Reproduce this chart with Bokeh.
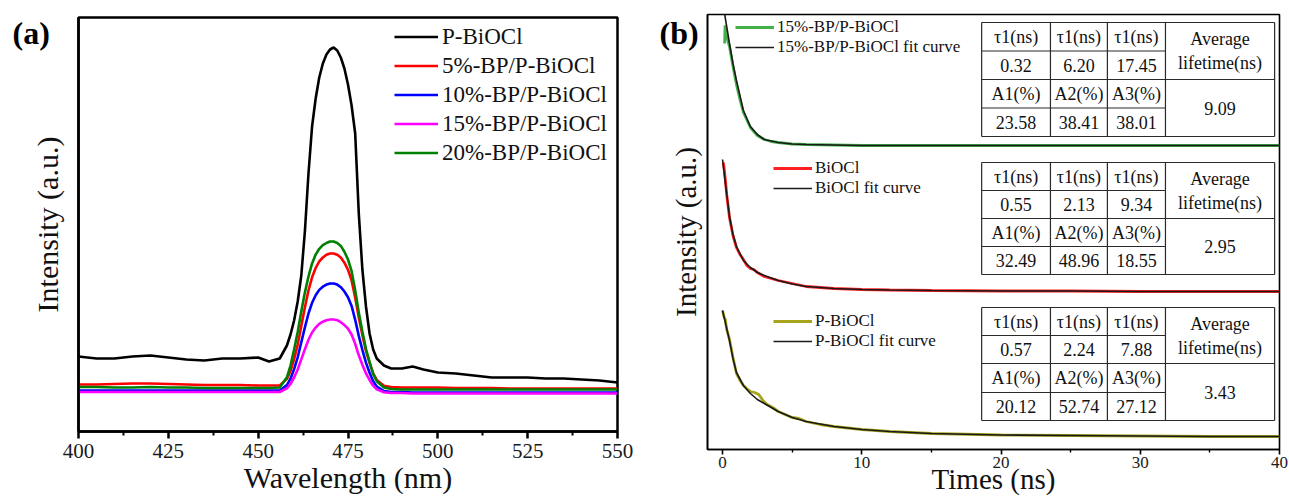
from bokeh.plotting import figure
from bokeh.models import Range1d, FixedTicker, Legend, LegendItem, Title
from bokeh.core.properties import value
from bokeh.embed import file_html
from bokeh.resources import INLINE

FONT = "Liberation Serif"

# ---------------- panel (a): PL spectra ----------------
wavelength_nm = [400, 405, 410, 415, 420, 425, 430, 435, 440, 445, 450, 453, 456,
                 458, 459, 460, 461, 462, 463, 464, 465, 466, 467, 468, 469, 470, 471, 472,
                 473, 474, 475, 476, 477, 478, 479, 480, 481, 482, 483,
                 485, 487, 490, 493, 496, 500, 505, 510, 515, 520, 525, 530, 535, 540, 545, 550]
pl_p_biocl = [75, 73, 73, 75, 76, 74, 72, 71, 73, 73, 74, 70, 73,
              86, 97, 111, 130, 156, 200, 258, 305, 333, 354, 368, 377, 382, 384, 381,
              374, 363, 347, 326, 298, 218, 162, 125, 98, 82, 73,
              66, 63, 63, 65, 62, 59, 58, 56, 54, 54, 54, 53, 53, 52, 51, 49]
pl_5 = [47, 47, 47.5, 48, 48, 47.5, 47, 46.5, 46.5, 46.5, 46, 46, 46,
        52.6, 60.5, 72.4, 86.9, 105.4, 123.9, 141, 154.2, 163.5, 170.1, 174, 176.7, 178, 178, 176.7,
        174, 168.8, 161.7, 151.1, 133.9, 114.1, 96.5, 80.6, 68.8, 58.2, 51.6,
        45.8, 44.5, 44, 44, 44, 44, 43.5, 43.5, 43.5, 43, 43, 43, 43, 43, 43, 43]
pl_10 = [41, 41, 41, 41, 41, 41, 41, 41, 41, 41, 41, 41, 41,
         46.4, 52.8, 62.4, 74.2, 89.2, 104.1, 118, 128.7, 136.2, 141.6, 144.8, 146.9, 148, 148, 146.9,
         144.3, 140, 134.2, 125.6, 111.7, 95.6, 81.7, 68.9, 58.8, 50.2, 44.9,
         40.5, 39.5, 39.5, 39, 39, 39, 39, 39, 39, 39, 39, 39, 39, 39, 39, 39]
pl_15 = [39.5, 39.5, 39.5, 39.5, 39.5, 39.5, 39.5, 39.5, 39.5, 39.5, 39.5, 39.5, 39.5,
         43.1, 47.5, 54, 62, 72.1, 82.3, 91.7, 99, 104, 107.7, 109.8, 111.3, 112, 112, 111.3,
         109.3, 106.4, 102.8, 97, 87.6, 76.2, 66.8, 58.1, 51.5, 45.8, 42.1,
         39.2, 38.5, 38.5, 38, 38, 38, 38, 38, 38, 38, 38, 38, 38, 38, 38, 38]
pl_20 = [44.5, 44.5, 44, 44, 44.5, 44, 44, 43.5, 43.5, 43.5, 43.5, 43.5, 44,
         54.2, 65.9, 82, 99.5, 119.9, 138.9, 155, 168.1, 176.9, 182.7, 186.4, 188.5, 190, 190, 188.5,
         185.6, 179.8, 172, 160.3, 141.3, 118.9, 99.9, 82.4, 69.3, 57.6, 50.3,
         44, 42.5, 42, 42, 42, 42, 42, 42, 42, 42, 42, 42, 42, 42, 42, 42]
pl_labels = ["P-BiOCl", "5%-BP/P-BiOCl", "10%-BP/P-BiOCl", "15%-BP/P-BiOCl", "20%-BP/P-BiOCl"]
pl_colors = ["#000000", "#ff0000", "#0000ff", "#ff00ff", "#008000"]
wl_ticks = [400, 425, 450, 475, 500, 525, 550]

# ---------------- panel (b): TRPL decays (stacked with offsets) ----------------
fit_time = [0, 0.25, 0.5, 0.75, 1, 1.5, 2, 2.5, 3, 4, 5, 6, 8, 10, 12, 15, 20, 25, 30, 35, 40]
fit_15 = [449, 427, 406, 386, 369, 339, 323, 315, 310, 307, 305.5, 305, 304.5, 304, 304, 304,
          304, 304, 304, 304, 304]
fit_biocl = [290, 261, 233, 215, 203, 189, 182, 177, 174, 169, 165.5, 163, 161, 160, 159.5, 159,
             158.5, 158.5, 158, 158, 158]
fit_p = [139, 124, 109, 91, 77, 64, 56, 50, 46, 38, 32, 28, 23, 20, 18, 16, 14.5, 14, 13.5, 13, 13]

data_time_15 = [0.15, 0.18, 0.22, 0.3, 0.5, 0.75, 1.0, 1.25, 1.5, 2, 2.5, 3, 3.5, 4, 5, 6, 8, 10,
                15, 20, 25, 30, 35, 40]
data_15 = [406, 424, 419, 413, 403, 383, 365, 350, 337, 322, 314, 310, 308, 307, 305.5, 305, 304.5,
           304, 304, 304, 304, 304, 304, 304]
data_time_biocl = [0.05, 0.1, 0.2, 0.3, 0.5, 0.75, 1.0, 1.25, 1.5, 1.75, 2, 2.25, 2.5, 3, 3.5, 4, 5,
                   6, 7, 8, 10, 12, 15, 20, 25, 30, 35, 40]
data_biocl = [287, 283, 270, 255, 232, 214, 202, 195, 190, 184, 181, 180, 177, 173, 171, 169, 166,
              163, 162, 161, 160, 159.5, 159, 158.5, 158.5, 158, 158, 158]
data_time_p = [0, 0.1, 0.2, 0.3, 0.5, 0.75, 1.0, 1.3, 1.5, 1.8, 2.0, 2.3, 2.6, 2.9, 3.2, 3.6, 4.0,
               4.5, 5, 5.5, 6, 7, 8, 9, 10, 12, 15, 20, 25, 30, 35, 40]
data_p = [139, 133, 130, 120, 110, 92, 76, 68, 64, 60, 58, 57, 55, 49, 45, 42, 38, 35, 32, 31, 28,
          25, 23, 21.5, 20, 18, 16, 14.5, 14, 13.5, 13, 13]

decay_labels = ["15%-BP/P-BiOCl", "BiOCl", "P-BiOCl"]
decay_colors = ["#43b04a", "#ff2020", "#a6a41c"]
time_ticks = [0, 10, 20, 30, 40]

tau_header = ["τ1(ns)", "τ1(ns)", "τ1(ns)"]
amp_header = ["A1(%)", "A2(%)", "A3(%)"]
lifetime_tau = [[0.32, 6.20, 17.45], [0.55, 2.13, 9.34], [0.57, 2.24, 7.88]]
lifetime_amp = [[23.58, 38.41, 38.01], [32.49, 48.96, 18.55], [20.12, 52.74, 27.12]]
lifetime_avg = [9.09, 2.95, 3.43]

# ---------------- layout constants ----------------
TABLE_COLS = [18.61, 23.55, 27.64, 31.81, 39.65]
TABLE_ROWS = [[427, 398.5, 370, 341.5, 313],
              [287, 259, 231, 203, 175],
              [142, 114, 86, 57, 29]]
LEGEND_B_POS = [(28, 392), (66, 251), (66, 98)]

# two independent roots placed side by side (avoids frame alignment of a Row)
PAGE_TEMPLATE = """
{% block postamble %}
<style>
  body { display: flex !important; flex-direction: row; align-items: flex-start; }
</style>
{% endblock %}
"""


def style_text_axis(ax, tick_size, label_size):
    ax.major_label_text_font = FONT
    ax.major_label_text_font_size = tick_size
    ax.major_label_text_color = "#1a1a1a"
    ax.axis_label_text_font = FONT
    ax.axis_label_text_font_size = label_size
    ax.axis_label_text_font_style = "normal"
    ax.axis_label_text_color = "#111111"


# ================= panel (a) =================
pa = figure(width=660, height=500, x_range=Range1d(400, 550), y_range=Range1d(0, 414),
            output_backend="svg", toolbar_location=None,
            min_border_left=78, min_border_right=43, min_border_top=17, min_border_bottom=69)
pa.grid.visible = False
pa.outline_line_color = "black"
pa.outline_line_width = 2.5
pa.outline_line_alpha = 1.0

series_a = [pl_p_biocl, pl_5, pl_10, pl_15, pl_20]
rend_a = []
for ys, c in zip(series_a, pl_colors):
    rend_a.append(pa.line(wavelength_nm, ys, line_color=c, line_width=2.6))

xa = pa.xaxis[0]
xa.ticker = FixedTicker(ticks=wl_ticks,
                        minor_ticks=[(a + b) / 2 for a, b in zip(wl_ticks[:-1], wl_ticks[1:])])
xa.axis_line_width = 2.5
xa.major_tick_line_width = 2.5
xa.minor_tick_line_width = 2
xa.major_tick_out = 7
xa.major_tick_in = 0
xa.minor_tick_out = 4
xa.minor_tick_in = 0
xa.axis_label = "Wavelength (nm)"
xa.axis_label_standoff = 0
style_text_axis(xa, "21px", "30px")

ya = pa.yaxis[0]
ya.ticker = FixedTicker(ticks=[])
ya.major_tick_out = 0
ya.major_tick_in = 0
ya.minor_tick_out = 0
ya.minor_tick_in = 0
ya.major_label_standoff = 0
ya.axis_line_width = 2.5
ya.axis_label = "Intensity (a.u.)"
ya.axis_label_standoff = 15
style_text_axis(ya, "21px", "30px")

leg_a = Legend(items=[LegendItem(label=l, renderers=[r]) for l, r in zip(pl_labels, rend_a)],
               location=(316, 264), glyph_width=44, glyph_height=29, label_height=29,
               spacing=0, padding=0, margin=0, label_standoff=4,
               label_text_font=FONT, label_text_font_size="23px", label_text_color="#111111",
               border_line_alpha=0, background_fill_alpha=0)
pa.add_layout(leg_a)

pa.add_layout(Title(text="(a)", align="left", offset=-66, standoff=-66,
                    text_font=FONT, text_font_size="32px", text_font_style="bold",
                    text_color="#000000"), "above")

# ================= panel (b) =================
pb = figure(width=629, height=500, x_range=Range1d(-1.08, 40), y_range=Range1d(0, 435),
            output_backend="svg", toolbar_location=None,
            min_border_left=47, min_border_right=10, min_border_top=14, min_border_bottom=51)
pb.grid.visible = False
pb.outline_line_color = "black"
pb.outline_line_width = 1.6
pb.outline_line_alpha = 1.0

data_sets = [(data_time_15, data_15), (data_time_biocl, data_biocl), (data_time_p, data_p)]
fit_sets = [fit_15, fit_biocl, fit_p]
data_rends = []
for (tx, ty), c in zip(data_sets, decay_colors):
    data_rends.append(pb.line(tx, ty, line_color=c, line_width=2.8))
fit_rends = []
for fy in fit_sets:
    fit_rends.append(pb.line(fit_time, fy, line_color="#1a1a1a", line_width=1.6))

for i, lab in enumerate(decay_labels):
    leg = Legend(items=[LegendItem(label=lab, renderers=[data_rends[i]]),
                        LegendItem(label=lab + " fit curve", renderers=[fit_rends[i]])],
                 location=LEGEND_B_POS[i], glyph_width=39, glyph_height=20, label_height=20,
                 spacing=0, padding=0, margin=0, label_standoff=3,
                 label_text_font=FONT, label_text_font_size="17px", label_text_color="#111111",
                 border_line_alpha=0, background_fill_alpha=0)
    pb.add_layout(leg)

# tables
c = TABLE_COLS
seg_x, seg_y = [], []
for r in TABLE_ROWS:
    seg_x += [[c[0], c[4]], [c[0], c[4]], [c[0], c[0]], [c[4], c[4]],
              [c[1], c[1]], [c[2], c[2]], [c[3], c[3]],
              [c[0], c[3]], [c[0], c[3]], [c[0], c[4]]]
    seg_y += [[r[0], r[0]], [r[4], r[4]], [r[0], r[4]], [r[0], r[4]],
              [r[0], r[4]], [r[0], r[4]], [r[0], r[4]],
              [r[1], r[1]], [r[3], r[3]], [r[2], r[2]]]
pb.multi_line(seg_x, seg_y, line_color="#2a2a2a", line_width=1.2)

tx_, ty_, tt_ = [], [], []
for k, r in enumerate(TABLE_ROWS):
    centers = [(r[i] + r[i + 1]) / 2 for i in range(4)]
    for j in range(3):
        xc = (c[j] + c[j + 1]) / 2
        tx_ += [xc, xc, xc, xc]
        ty_ += centers
        tt_ += [tau_header[j], "%.2f" % lifetime_tau[k][j], amp_header[j],
                "%.2f" % lifetime_amp[k][j]]
    xc = (c[3] + c[4]) / 2
    top_mid = (r[0] + r[2]) / 2
    tx_ += [xc, xc, xc]
    ty_ += [top_mid + 12, top_mid - 12, (r[2] + r[4]) / 2]
    tt_ += ["Average", "lifetime(ns)", "%.2f" % lifetime_avg[k]]
pb.text(tx_, ty_, text=tt_, text_font=value(FONT), text_font_size="18px",
        text_align="center", text_baseline="middle", text_color="#111111")

xb = pb.xaxis[0]
xb.ticker = FixedTicker(ticks=time_ticks,
                        minor_ticks=[(a + b) / 2 for a, b in zip(time_ticks[:-1], time_ticks[1:])])
xb.axis_line_width = 1.6
xb.major_tick_line_width = 1.6
xb.minor_tick_line_width = 1.4
xb.major_tick_out = 5
xb.major_tick_in = 0
xb.minor_tick_out = 3
xb.minor_tick_in = 0
xb.major_label_standoff = 2
xb.axis_label = "Times (ns)"
xb.axis_label_standoff = -8
style_text_axis(xb, "17px", "29px")

yb = pb.yaxis[0]
yb.ticker = FixedTicker(ticks=[])
yb.major_tick_out = 0
yb.major_tick_in = 0
yb.minor_tick_out = 0
yb.minor_tick_in = 0
yb.major_label_standoff = 0
yb.axis_line_width = 1.6
yb.axis_label = "Intensity (a.u.)"
yb.axis_label_standoff = 6
style_text_axis(yb, "17px", "29px")

pb.add_layout(Title(text="(b)", align="left", offset=-48, standoff=-72,
                    text_font=FONT, text_font_size="32px", text_font_style="bold",
                    text_color="#000000"), "above")

open("out.html", "w").write(file_html([pa, pb], INLINE, template=PAGE_TEMPLATE))
